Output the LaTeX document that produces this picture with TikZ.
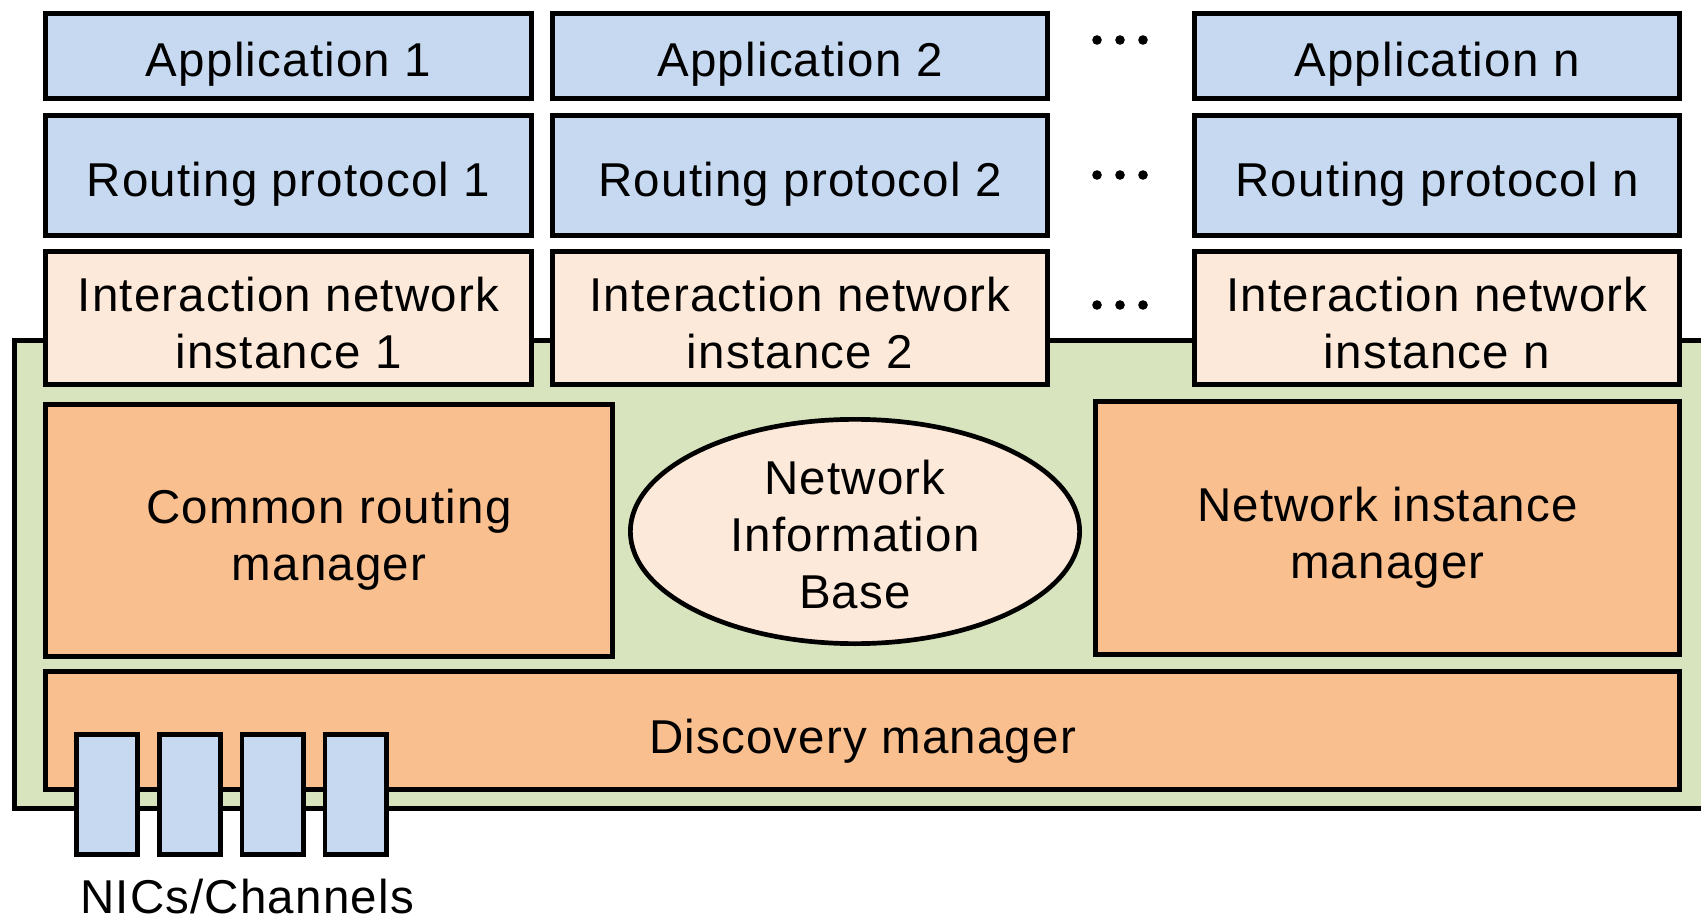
\documentclass[tikz,border=0pt]{standalone}
\usepackage{fontspec}
\newfontfamily\lab{Liberation Sans}[LetterSpace=2.5]
\usetikzlibrary{shapes.geometric}
\definecolor{appblue}{RGB}{198,217,240}
\definecolor{peach}{RGB}{253,233,217}
\definecolor{sage}{RGB}{215,228,189}
\definecolor{apricot}{RGB}{249,191,143}

\tikzset{
  box/.style={draw=black, line width=4.7pt, rectangle, inner sep=0pt},
  bluebox/.style={box, fill=appblue},
  peachbox/.style={box, fill=peach},
  mgrbox/.style={box, fill=apricot},
  % multi-line labels sit on the baseline of their last line
  lbl/.style={font=\lab\fontsize{47.5pt}{57pt}\selectfont, align=center, inner sep=0pt, anchor=base},
  dot/.style={fill=black},
}

\begin{document}
\begin{tikzpicture}[x=1pt,y=-1pt]
\useasboundingbox (0,0) rectangle (1701,920);

% green platform, running off the right edge
\begin{scope}
  \clip (0,0) rectangle (1701,920);
  \path[draw=black, line width=4.7pt, fill=sage] (14.35,340.35) rectangle (1730,808.65);
\end{scope}

% applications
\node[bluebox, minimum width=486.3pt, minimum height=85.3pt] (app1) at (288.5,56) {};
\node[bluebox, minimum width=495.3pt, minimum height=85.3pt] (app2) at (800,56) {};
\node[bluebox, minimum width=485.3pt, minimum height=85.3pt] (appn) at (1437,56) {};
\node[lbl] (app1-t) at (288.5,77) {Application 1};
\node[lbl] (app2-t) at (800,77) {Application 2};
\node[lbl] (appn-t) at (1437,77) {Application n};

% routing protocols
\node[bluebox, minimum width=486.3pt, minimum height=120.3pt] (rp1) at (288.5,175.5) {};
\node[bluebox, minimum width=495.3pt, minimum height=120.3pt] (rp2) at (800,175.5) {};
\node[bluebox, minimum width=485.3pt, minimum height=120.3pt] (rpn) at (1437,175.5) {};
\node[lbl] (rp1-t) at (288.5,197) {Routing protocol 1};
\node[lbl] (rp2-t) at (800,197) {Routing protocol 2};
\node[lbl] (rpn-t) at (1437,197) {Routing protocol n};

% interaction network instances
\node[peachbox, minimum width=486.3pt, minimum height=133.3pt] (in1) at (288.5,318) {};
\node[peachbox, minimum width=495.3pt, minimum height=133.3pt] (in2) at (800,318) {};
\node[peachbox, minimum width=485.3pt, minimum height=133.3pt] (inn) at (1437,318) {};
\node[lbl] (in1-t) at (288.5,368) {Interaction network\\instance 1};
\node[lbl] (in2-t) at (800,368) {Interaction network\\instance 2};
\node[lbl] (inn-t) at (1437,368) {Interaction network\\instance n};

% ellipsis dots between columns
\foreach \y in {40,175,305}{
  \foreach \x in {1097,1120,1143}{
    \fill[dot] (\x,\y) circle (4.8pt);
  }
}

% managers
\node[mgrbox, minimum width=567.3pt, minimum height=252.3pt] (crm) at (329,530.5) {};
\node[lbl] (crm-t) at (329,580) {Common routing\\manager};

\node[draw=black, line width=4.7pt, fill=peach, ellipse, inner sep=0pt,
      minimum width=449.3pt, minimum height=224.3pt] (nib) at (855,531.5) {};
\node[lbl] (nib-t) at (855,608) {Network\\Information\\Base};

\node[mgrbox, minimum width=584.3pt, minimum height=253.3pt] (nim) at (1387.5,528) {};
\node[lbl] (nim-t) at (1387.5,578) {Network instance\\manager};

\node[mgrbox, minimum width=1634.3pt, minimum height=118.3pt] (dm) at (862.5,730.5) {};
\node[lbl] (dm-t) at (862.5,753) {Discovery manager};

% network interfaces
\foreach \i/\x in {1/107,2/190,3/272.5,4/355.5}{
  \node[bluebox, minimum width=61.3pt, minimum height=120.3pt] (nic\i) at (\x,794.5) {};
}
\node[lbl] (nic-t) at (247,913) {NICs/Channels};
\end{tikzpicture}
\end{document}
